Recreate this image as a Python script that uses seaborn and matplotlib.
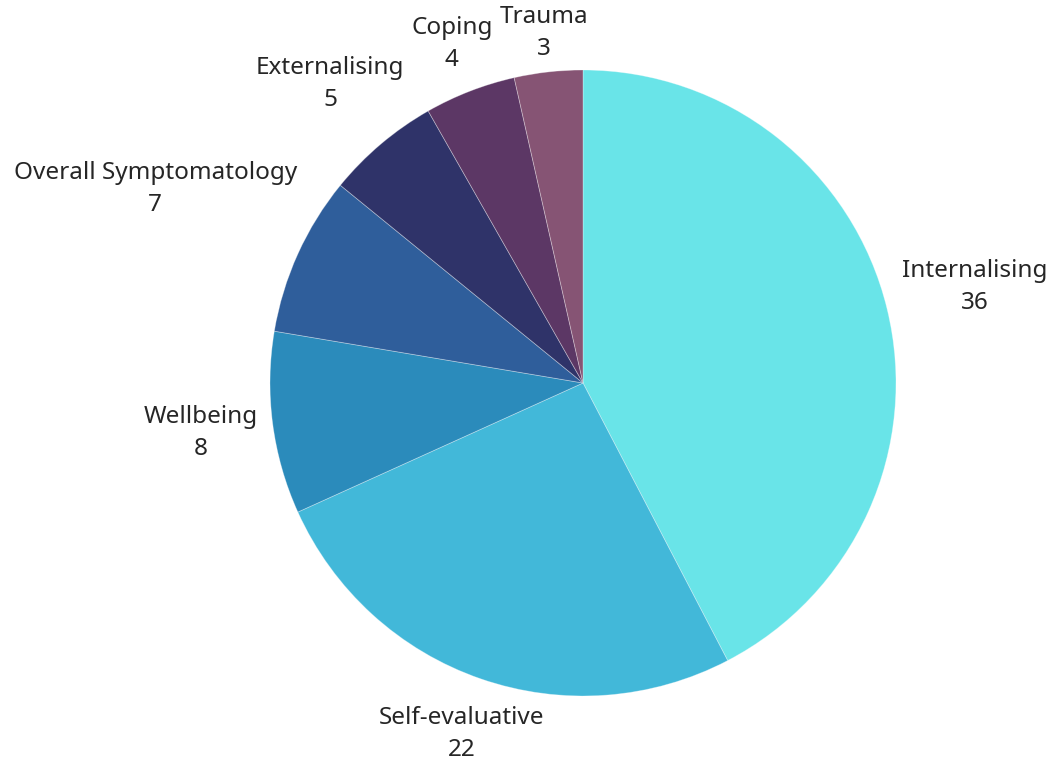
import numpy as np
import matplotlib
matplotlib.use("Agg")
import matplotlib.pyplot as plt
import seaborn as sns

sns.set_theme(style="white")
plt.rcParams['font.family'] = ['Noto Sans', 'DejaVu Sans']

categories = ["Internalising", "Self-evaluative", "Wellbeing", "Overall Symptomatology",
              "Externalising", "Coping", "Trauma"]
counts = [36, 22, 8, 7, 5, 4, 3]
colors = ["#69e4e8", "#42b8d9", "#2b8bbb", "#2f5e9b", "#2f3369", "#5c3765", "#865474"]
# radial distance of each label (in pie radii)
label_dist = [1.29, 1.185, 1.23, 1.5, 1.25, 1.16, 1.125]

W, H, dpi = 1058, 762, 100
cx, cy, R = 583, 383, 313

fig = plt.figure(figsize=(W / dpi, H / dpi), dpi=dpi)
ax = fig.add_axes([0, 0, 1, 1])
ax.pie(counts, colors=colors, startangle=90, counterclock=False, radius=1,
       wedgeprops=dict(linewidth=0.6, edgecolor=(1, 1, 1, 0.35)))
ax.set_xlim(-cx / R, (W - cx) / R)
ax.set_ylim(-(H - cy) / R, cy / R)
ax.set_aspect("equal")
ax.axis("off")

total = sum(counts)
start = 90.0
for name, val, d in zip(categories, counts, label_dist):
    span = val / total * 360.0
    mid = np.deg2rad(start - span / 2)
    start -= span
    x, y = d * np.cos(mid), d * np.sin(mid)
    ax.text(x, y, f"{name}\n{val}", ha="center", va="center", fontsize=17.5,
            color="#262626", linespacing=1.45, fontweight="light")

fig.savefig("out.png", dpi=dpi, facecolor="white")
